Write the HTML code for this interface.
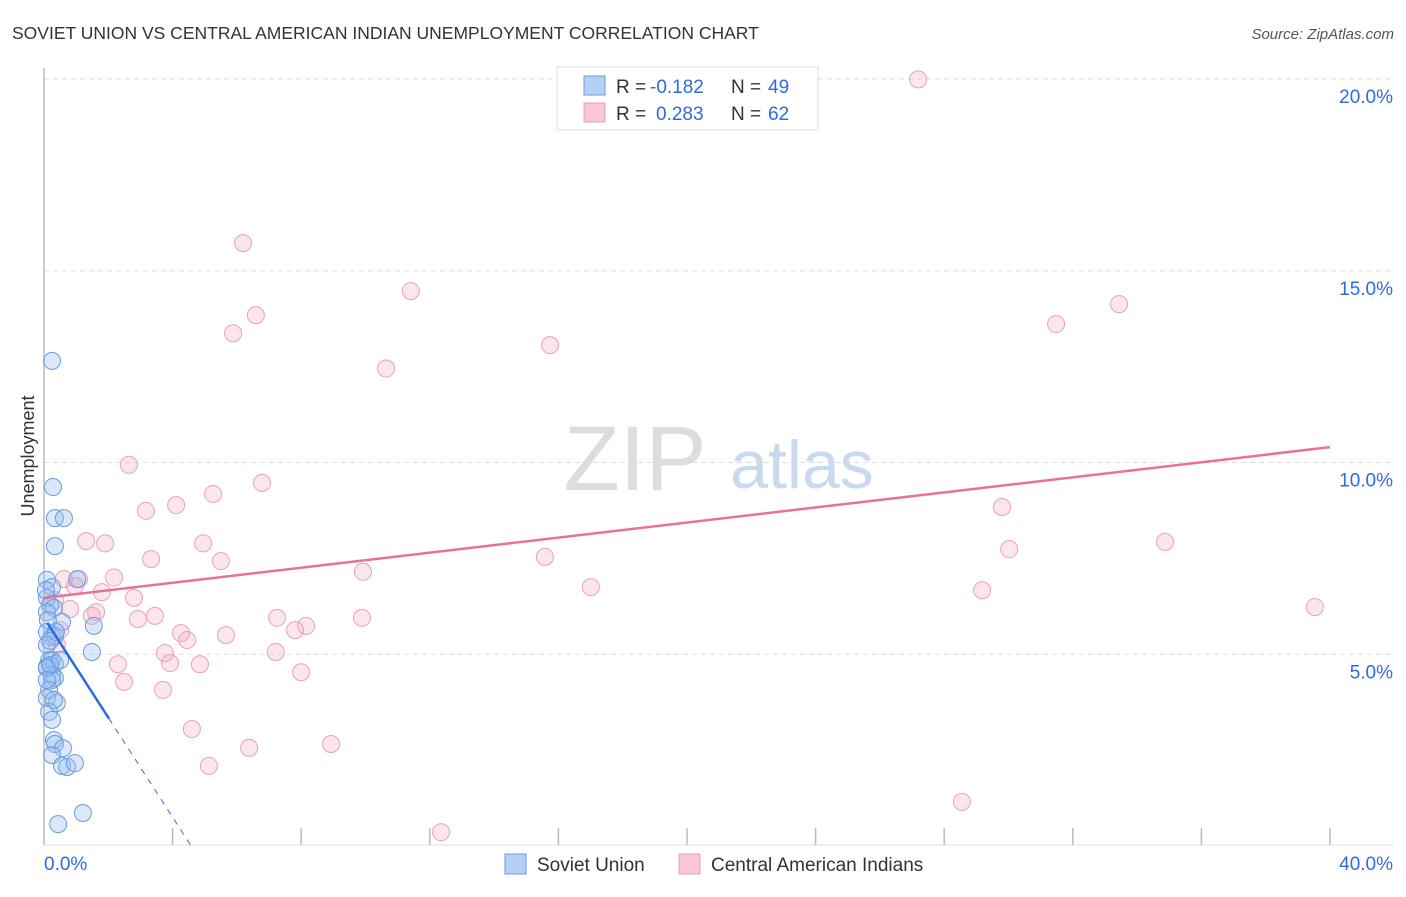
<!DOCTYPE html>
<html><head><meta charset="utf-8"><style>
body{margin:0;background:#fff;font-family:"Liberation Sans",sans-serif;}
svg text{font-family:"Liberation Sans",sans-serif;}
</style></head><body>
<svg id="chart" width="1406" height="892" xmlns="http://www.w3.org/2000/svg">
<text x="12" y="39" font-size="17.5" fill="#333">SOVIET UNION VS CENTRAL AMERICAN INDIAN UNEMPLOYMENT CORRELATION CHART</text>
<text x="1394" y="39" font-size="15" fill="#555" text-anchor="end" font-style="italic">Source: ZipAtlas.com</text>
<g>
<text x="635" y="490" font-size="92" fill="#ddd" text-anchor="middle" font-family="Liberation Serif,serif">ZIP</text>
<text x="802" y="488" font-size="68" fill="#c9d9f0" text-anchor="middle">atlas</text>
</g>
<g id="grid"></g><g id="axes"></g><g id="pink"></g><g id="blue"></g><g id="lines"></g>
<text transform="translate(34,456) rotate(-90)" font-size="18" fill="#333" text-anchor="middle">Unemployment</text>
<g>
<rect x="557" y="67" width="261" height="63" fill="#fff" stroke="#ddd"/>
<rect x="584" y="76" width="21" height="19" fill="#b5cff5" stroke="#6a9be0"/>
<rect x="584" y="103" width="21" height="19" fill="#f9c7d6" stroke="#ec9bb5"/>
<text x="616" y="93" font-size="19" fill="#333">R =</text>
<text x="650" y="93" font-size="19" fill="#2d6cdf">-0.182</text>
<text x="731" y="93" font-size="19" fill="#333">N =</text>
<text x="768" y="93" font-size="19" fill="#2d6cdf">49</text>
<text x="616" y="120" font-size="19" fill="#333">R =</text>
<text x="656" y="120" font-size="19" fill="#2d6cdf">0.283</text>
<text x="731" y="120" font-size="19" fill="#333">N =</text>
<text x="768" y="120" font-size="19" fill="#2d6cdf">62</text>
</g>
<g>
<rect x="505" y="854" width="21" height="20" fill="#b5cff5" stroke="#6a9be0"/>
<text x="537" y="871" font-size="19" fill="#333">Soviet Union</text>
<rect x="679" y="854" width="21" height="20" fill="#f9c7d6" stroke="#ec9bb5"/>
<text x="711" y="871" font-size="19" fill="#333">Central American Indians</text>
</g>
</svg>
<script>
const yTicks=[5,10,15,20];
const yTickLabels=["5.0%","10.0%","15.0%","20.0%"];
const xTickLabels=["0.0%","40.0%"];
const blueX=[0.25,0.28,0.34,0.62,0.34,0.09,0.25,1.03,0.09,0.19,0.31,0.56,1.55,0.09,0.25,0.34,1.49,0.09,0.16,0.25,0.34,0.09,0.25,0.34,0.25,0.16,0.09,0.4,0.16,0.25,0.31,0.34,0.59,0.25,0.56,0.72,0.96,1.21,0.44,0.09,0.09,0.06,0.12,0.37,0.19,0.09,0.31,0.5,0.19];
const blueY=[12.65,9.36,8.55,8.55,7.82,6.94,6.75,6.96,6.47,6.28,6.21,5.84,5.74,5.58,5.45,5.48,5.06,5.24,4.85,4.85,4.75,4.67,4.46,4.38,4.33,4.07,3.86,3.73,3.5,3.29,2.76,2.66,2.55,2.37,2.09,2.06,2.16,0.86,0.57,4.64,6.1,6.67,5.89,5.58,4.72,4.33,3.81,4.85,5.35];
const pinkX=[27.19,6.19,11.41,6.59,33.44,5.88,31.48,15.74,10.64,2.64,6.78,5.26,4.11,3.17,29.8,1.31,1.9,4.95,30.02,34.87,3.33,5.5,15.58,9.92,2.18,1.09,0.62,1.8,0.96,17.01,29.18,2.8,39.53,0.81,1.62,1.49,3.45,2.92,7.25,9.89,8.15,7.81,4.26,5.66,4.45,3.76,7.21,3.92,4.85,2.3,8.0,2.49,3.7,4.6,6.38,8.93,5.13,28.55,12.35,0.4,0.5,0.34];
const pinkY=[19.99,15.72,14.47,13.84,14.13,13.37,13.61,13.06,12.45,9.94,9.47,9.18,8.89,8.74,8.84,7.95,7.89,7.89,7.74,7.93,7.48,7.43,7.54,7.15,7.0,6.96,6.96,6.62,6.78,6.75,6.67,6.47,6.23,6.18,6.1,6.0,6.0,5.92,5.95,5.95,5.74,5.63,5.55,5.5,5.37,5.03,5.06,4.77,4.74,4.74,4.53,4.28,4.07,3.05,2.56,2.66,2.09,1.15,0.36,5.24,5.63,6.41];
const pinkTrend=[6.47,10.4];
const blueTrend=[5.95,-1.30];
const X=v=>44+v*32.15, Y=v=>846-v*38.35;
const NS="http://www.w3.org/2000/svg";
function mk(p,t,a){const e=document.createElementNS(NS,t);for(const k in a)e.setAttribute(k,a[k]);document.getElementById(p).appendChild(e);return e;}
yTicks.forEach((t,i)=>{
 const l=mk("grid","line",{x1:44,x2:1394,y1:Y(t),y2:Y(t),stroke:"#ddd","stroke-dasharray":"5,4"});
 
 
 const tx=mk("grid","text",{x:1393,y:Y(t)+24,"font-size":19,fill:"#2d6cdf","text-anchor":"end"});tx.textContent=yTickLabels[i];
 
 
});
mk("axes","line",{x1:44,x2:44,y1:68,y2:845,stroke:"#bbb","stroke-width":1.5});
mk("axes","line",{x1:44,x2:1394,y1:845,y2:845,stroke:"#ddd"});
for(let i=1;i<=10;i++){mk("axes","line",{x1:X(i*4),x2:X(i*4),y1:828,y2:845,stroke:"#bbb","stroke-width":1.5});}
const xl=mk("axes","text",{x:44,y:870,"font-size":19,fill:"#2d6cdf"});xl.textContent=xTickLabels[0];


const xr=mk("axes","text",{x:1393,y:870,"font-size":19,fill:"#2d6cdf","text-anchor":"end"});xr.textContent=xTickLabels[1];


pinkX.forEach((x,i)=>{const c=mk("pink","circle",{cx:X(x),cy:Y(pinkY[i]),r:8.5,fill:"rgba(244,170,195,0.3)",stroke:"#eaa0b9","stroke-width":1});
 
 });
blueX.forEach((x,i)=>{const c=mk("blue","circle",{cx:X(x),cy:Y(blueY[i]),r:8.5,fill:"rgba(150,188,240,0.35)",stroke:"#6a9be0","stroke-width":1});
 
 });
const pl=mk("lines","line",{x1:X(0),y1:Y(pinkTrend[0]),x2:X(40),y2:Y(pinkTrend[1]),stroke:"#e8719a","stroke-width":2.5});


const bl=mk("lines","line",{x1:X(0.1),y1:Y(blueTrend[0]+blueTrend[1]*0.1),x2:X(2.02),y2:Y(blueTrend[0]+blueTrend[1]*2.02),stroke:"#2d6cdf","stroke-width":2.5});


const x0=-blueTrend[0]/blueTrend[1];
const bd=mk("lines","line",{x1:X(2.02),y1:Y(blueTrend[0]+blueTrend[1]*2.02),x2:X(x0),y2:Y(0),stroke:"#2d6cdf","stroke-width":1,"stroke-dasharray":"6,6"});


</script>
</body></html>
